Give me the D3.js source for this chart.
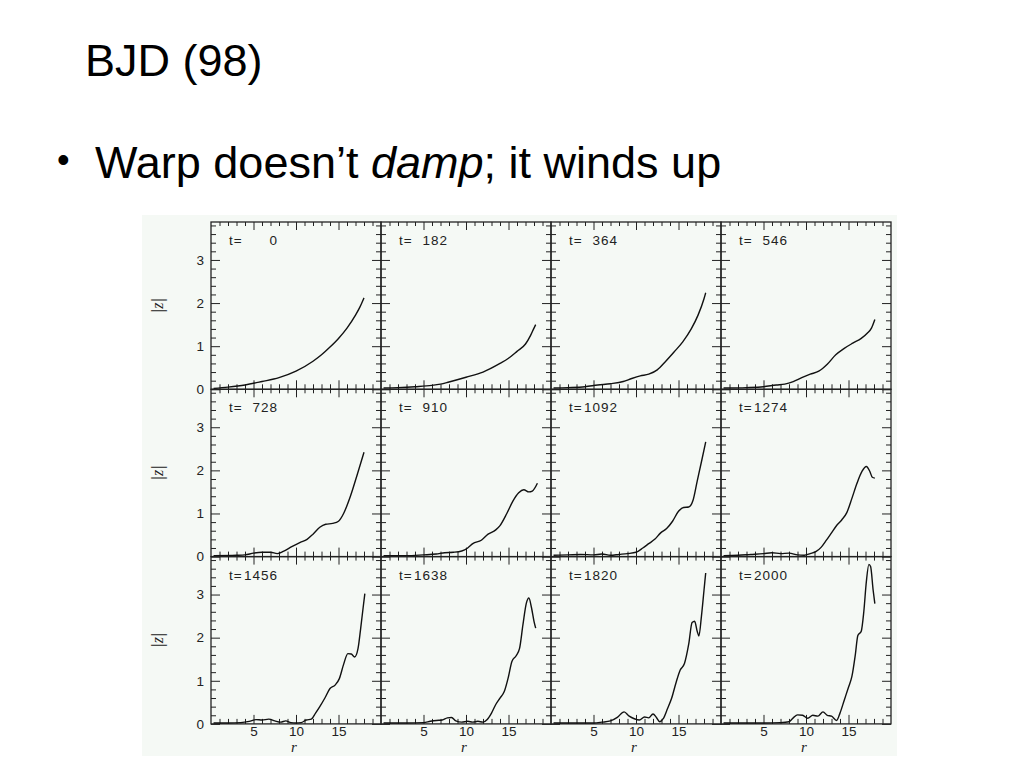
<!DOCTYPE html>
<html><head><meta charset="utf-8">
<script src="https://cdn.jsdelivr.net/npm/d3@7"></script>
<style>body{margin:0;background:#fff;} svg{display:block}</style>
</head><body><svg id="c" width="1024" height="768"></svg>
<script>
// ---- data ----
const times = [0, 182, 364, 546, 728, 910, 1092, 1274, 1456, 1638, 1820, 2000];
const z_t0 = [[0.3,0.02],[2,0.05],[4,0.1],[6,0.18],[8,0.27],[10,0.42],[12,0.65],[13,0.8],[14,0.98],[15,1.18],[16,1.42],[17,1.72],[17.5,1.9],[18,2.12]];
const z_t182 = [[0.3,0.03],[2,0.04],[4,0.06],[6,0.09],[7,0.12],[8,0.17],[10,0.28],[12,0.4],[14,0.6],[15,0.72],[16,0.88],[17,1.05],[17.6,1.25],[18,1.42],[18.2,1.5]];
const z_t364 = [[0.3,0.03],[2,0.04],[4,0.06],[5.5,0.1],[7,0.13],[8.5,0.18],[9.5,0.25],[10.5,0.31],[11.5,0.35],[12.5,0.45],[13.5,0.65],[14.5,0.87],[15.5,1.1],[16.5,1.4],[17.3,1.72],[18,2.1],[18.2,2.24]];
const z_t546 = [[0.3,0.03],[3,0.04],[5,0.06],[6.5,0.1],[7.5,0.12],[8.5,0.18],[9.5,0.27],[10.5,0.35],[11.5,0.42],[12.5,0.58],[13.5,0.8],[14.5,0.95],[15.5,1.07],[16.5,1.18],[17.2,1.3],[17.7,1.42],[18.1,1.62]];
const z_t728 = [[0.3,0.02],[3,0.03],[4,0.04],[5,0.08],[6,0.1],[7,0.1],[7.8,0.07],[8.5,0.12],[9.5,0.23],[10.5,0.33],[11.3,0.4],[12,0.52],[12.8,0.68],[13.5,0.75],[14.3,0.77],[15,0.82],[15.6,1.0],[16.4,1.4],[17.2,1.9],[18,2.42]];
const z_t910 = [[0.3,0.02],[3,0.02],[5,0.04],[6.5,0.06],[7.5,0.09],[8.5,0.1],[9.5,0.13],[10.2,0.2],[10.8,0.3],[11.8,0.38],[12.6,0.52],[13.5,0.62],[14.0,0.72],[14.8,1.0],[15.5,1.28],[16.2,1.48],[16.8,1.55],[17.4,1.5],[17.8,1.52],[18.4,1.7]];
const z_t1092 = [[0.3,0.03],[2,0.04],[3.5,0.05],[5,0.04],[6,0.06],[7,0.03],[8,0.05],[9,0.07],[10,0.1],[10.8,0.2],[11.5,0.3],[12.2,0.4],[12.9,0.55],[13.6,0.65],[14.3,0.82],[15,1.05],[15.6,1.14],[16.2,1.15],[16.7,1.3],[17.2,1.75],[17.7,2.2],[18.2,2.66]];
const z_t1274 = [[0.3,0.02],[2,0.03],[3.5,0.05],[5,0.07],[6,0.09],[7,0.07],[8,0.08],[9,0.04],[9.8,0.03],[10.5,0.07],[11.2,0.12],[11.8,0.22],[12.4,0.38],[13,0.55],[13.6,0.72],[14.2,0.85],[14.8,1.02],[15.4,1.35],[16,1.7],[16.6,1.98],[17.1,2.09],[17.5,1.98],[17.8,1.84],[18.1,1.82]];
const z_t1456 = [[0.3,0.02],[2,0.02],[3.5,0.03],[4.5,0.06],[5.3,0.1],[6,0.09],[6.8,0.11],[7.5,0.07],[8.2,0.04],[8.8,0.07],[9.4,0.03],[10,0.02],[10.6,0.03],[11.2,0.09],[11.8,0.11],[12.3,0.25],[12.8,0.4],[13.4,0.6],[14,0.82],[14.6,0.9],[15.1,1.05],[15.6,1.38],[16.1,1.63],[16.5,1.62],[16.9,1.55],[17.3,1.75],[17.6,2.2],[17.9,2.7],[18.1,3.02]];
const z_t1638 = [[0.3,0.02],[3,0.02],[5,0.03],[5.8,0.06],[6.5,0.08],[7.2,0.09],[7.8,0.14],[8.3,0.15],[8.8,0.07],[9.5,0.04],[10.2,0.06],[10.8,0.04],[11.4,0.06],[12,0.04],[12.5,0.1],[13,0.25],[13.5,0.45],[14,0.6],[14.5,0.75],[15,1.1],[15.4,1.45],[15.9,1.58],[16.3,1.75],[16.7,2.3],[17.1,2.8],[17.4,2.92],[17.7,2.7],[18,2.38],[18.2,2.22]];
const z_t1820 = [[0.3,0.02],[3,0.02],[5,0.02],[6,0.04],[7,0.07],[7.8,0.15],[8.6,0.28],[9.2,0.18],[9.8,0.12],[10.4,0.09],[11,0.16],[11.5,0.14],[12,0.23],[12.4,0.15],[12.8,0.05],[13.2,0.12],[13.7,0.35],[14.2,0.6],[14.7,0.95],[15.2,1.25],[15.7,1.4],[16.2,1.85],[16.6,2.35],[16.9,2.38],[17.2,2.15],[17.4,2.04],[17.7,2.5],[18,3.1],[18.2,3.5]];
const z_t2000 = [[0.3,0.02],[3,0.02],[5,0.02],[7,0.03],[8,0.05],[8.5,0.14],[9,0.21],[9.6,0.2],[10.2,0.13],[10.8,0.2],[11.4,0.18],[12,0.28],[12.5,0.2],[13,0.18],[13.6,0.08],[14,0.25],[14.5,0.55],[15,0.85],[15.4,1.1],[15.8,1.6],[16.1,2.05],[16.5,2.15],[16.8,2.6],[17.1,3.3],[17.4,3.7],[17.6,3.65],[17.9,3.1],[18.1,2.79]];
const profiles = [z_t0, z_t182, z_t364, z_t546, z_t728, z_t910, z_t1092, z_t1274, z_t1456, z_t1638, z_t1820, z_t2000];
const rMajorTicks = [5, 10, 15];
const zMajorTicks = [0, 1, 2, 3];
const titleText = "BJD (98)";

// ---- layout ----
const svg = d3.select("#c");
const frameLeft = 211, frameTop = 222, panelW = 170, panelH = 167.3, nCols = 4, nRows = 3;
const x = d3.scaleLinear().domain([0, 20]).range([0, panelW]);
const y = d3.scaleLinear().domain([0, 3.88]).range([panelH, 0]);
const rMinor = d3.range(1, 20).filter(v => v % 5 !== 0);
const zMinor = d3.range(1, 20).filter(i => i % 5 !== 0).map(i => i * 0.2);
const ink = "#222";
const majorLen = 9, minorLen = 5;
const sans = "Liberation Sans, Arial, sans-serif";
const serif = "Liberation Serif, Times New Roman, serif";

// title and bullet
svg.append("text").attr("x", 85).attr("y", 76)
  .attr("font-family", sans).attr("font-size", 45).attr("fill", "#000")
  .text(titleText);
svg.append("text").attr("x", 57).attr("y", 172)
  .attr("font-family", sans).attr("font-size", 36).attr("fill", "#000")
  .text("•");
const bl = svg.append("text").attr("x", 95).attr("y", 178)
  .attr("font-family", sans).attr("font-size", 45).attr("fill", "#000");
bl.append("tspan").text("Warp doesn\u2019t ");
bl.append("tspan").attr("font-style", "italic").text("damp");
bl.append("tspan").text("; it winds up");

// figure background
svg.append("rect").attr("x", 142).attr("y", 215).attr("width", 755).attr("height", 541).attr("fill", "#f5f9f5");

const line = d3.line().x(d => x(d[0])).y(d => y(d[1])).curve(d3.curveMonotoneX);

function styleAxis(g) {
  g.select(".domain").remove();
  g.selectAll(".tick line").attr("stroke", ink).attr("stroke-width", 1);
  g.selectAll(".tick text").attr("fill", ink).attr("font-family", sans).attr("font-size", 13.5);
}

profiles.forEach((prof, i) => {
  const col = i % nCols, row = Math.floor(i / nCols);
  const x0 = frameLeft + col * panelW, y0 = frameTop + row * panelH;
  const g = svg.append("g").attr("transform", `translate(${x0},${y0})`);
  const showX = row === nRows - 1, showY = col === 0;

  // bottom
  g.append("g").attr("transform", `translate(0,${panelH})`)
    .call(d3.axisBottom(x).tickValues(rMajorTicks).tickSizeInner(-majorLen).tickSizeOuter(0).tickPadding(2.5)
      .tickFormat(showX ? d3.format("d") : () => "")).call(styleAxis);
  g.append("g").attr("transform", `translate(0,${panelH})`)
    .call(d3.axisBottom(x).tickValues(rMinor).tickSizeInner(-minorLen).tickSizeOuter(0).tickFormat(() => "")).call(styleAxis);
  // top
  g.append("g").call(d3.axisTop(x).tickValues(rMajorTicks).tickSizeInner(-majorLen + 1).tickSizeOuter(0).tickFormat(() => "")).call(styleAxis);
  g.append("g").call(d3.axisTop(x).tickValues(rMinor).tickSizeInner(-minorLen + 1).tickSizeOuter(0).tickFormat(() => "")).call(styleAxis);
  // left
  g.append("g").call(d3.axisLeft(y).tickValues(zMajorTicks).tickSizeInner(-majorLen).tickSizeOuter(0).tickPadding(7)
    .tickFormat(showY ? d3.format("d") : () => "")).call(styleAxis);
  g.append("g").call(d3.axisLeft(y).tickValues(zMinor).tickSizeInner(-minorLen).tickSizeOuter(0).tickFormat(() => "")).call(styleAxis);
  // right
  g.append("g").attr("transform", `translate(${panelW},0)`)
    .call(d3.axisRight(y).tickValues(zMajorTicks).tickSizeInner(-majorLen).tickSizeOuter(0).tickFormat(() => "")).call(styleAxis);
  g.append("g").attr("transform", `translate(${panelW},0)`)
    .call(d3.axisRight(y).tickValues(zMinor).tickSizeInner(-minorLen).tickSizeOuter(0).tickFormat(() => "")).call(styleAxis);

  g.append("rect").attr("width", panelW).attr("height", panelH)
    .attr("fill", "none").attr("stroke", ink).attr("stroke-width", 1.3);

  g.append("path").datum(prof).attr("d", line)
    .attr("fill", "none").attr("stroke", "#111").attr("stroke-width", 1.4);

  // time label
  g.append("text").attr("x", 18).attr("y", 23)
    .attr("font-family", sans).attr("font-size", 13.5).attr("letter-spacing", 1).attr("fill", ink)
    .text("t=");
  g.append("text").attr("x", 67).attr("y", 23).attr("text-anchor", "end")
    .attr("font-family", sans).attr("font-size", 13.5).attr("letter-spacing", 1).attr("fill", ink)
    .text(times[i]);

  if (showX) {
    g.append("text").attr("x", panelW / 2 - 2).attr("y", panelH + 28).attr("text-anchor", "middle")
      .attr("font-family", serif).attr("font-style", "italic").attr("font-size", 15).attr("fill", ink)
      .text("r");
  }
  if (showY) {
    g.append("text").attr("transform", `translate(-48,${panelH / 2}) rotate(-90)`).attr("text-anchor", "middle")
      .attr("font-family", serif).attr("font-style", "italic").attr("font-size", 16).attr("fill", ink)
      .text("|z|");
  }
});
</script></body></html>
